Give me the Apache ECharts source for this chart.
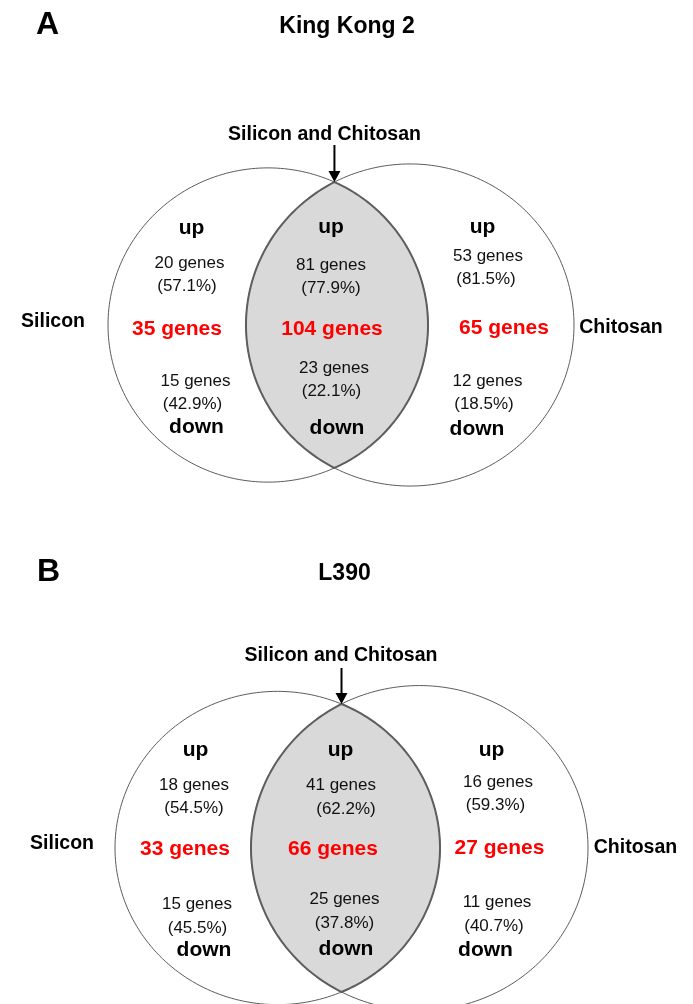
<!DOCTYPE html>
<html>
<head>
<meta charset="utf-8">
<title>Venn diagrams: Silicon and Chitosan responsive genes</title>
<script src="https://cdn.jsdelivr.net/npm/echarts@6/dist/echarts.min.js"></script>
<style>
  html, body { margin: 0; padding: 0; background: #ffffff; }
  #chart { width: 693px; height: 1004px; }
</style>
</head>
<body>
<div id="chart"></div>
<script>
// ---- data -------------------------------------------------------------
const panelLetters = ['A', 'B'];
const cultivars = ['King Kong 2', 'L390'];
const setNames = ['Silicon', 'Chitosan'];
const overlapName = 'Silicon and Chitosan';

// regions in order: Silicon only, Silicon and Chitosan, Chitosan only
const kk2Total = [35, 104, 65];
const kk2Up = [20, 81, 53];
const kk2UpPct = ['57.1', '77.9', '81.5'];
const kk2Down = [15, 23, 12];
const kk2DownPct = ['42.9', '22.1', '18.5'];

const l390Total = [33, 66, 27];
const l390Up = [18, 41, 16];
const l390UpPct = ['54.5', '62.2', '59.3'];
const l390Down = [15, 25, 11];
const l390DownPct = ['45.5', '37.8', '40.7'];

const upWord = 'up';
const downWord = 'down';

// ---- layout (page pixel frame: x 0..693, y 0..1004 downward) ----------
const W = 693, H = 1004;
const FONT = "'Liberation Sans', Arial, Helvetica, sans-serif";

// Text anchor points are [center x, baseline y]
const LAYOUT = [
  {
    letter: [36, 32], title: [347, 32], overlapTitle: [324.5, 139], arrowTop: 145,
    cy: 325, squash: 0.982,
    sets: [{ cx: 268, rx: 160 }, { cx: 410, rx: 164 }],
    setLabels: [[53, 326], [621, 332]],
    slots: [
      [[191.5, 233], [189.5, 267], [187, 290], [177, 334], [195.5, 385], [192.5, 408], [196.5, 432]],
      [[331, 232], [331, 269], [331, 292], [332, 334], [334, 372], [331.5, 395], [337, 433]],
      [[482.5, 232], [488, 260], [486, 283], [504, 333], [487.5, 385], [484, 408], [477, 434]]
    ]
  },
  {
    letter: [37, 579], title: [344.5, 579], overlapTitle: [341, 660], arrowTop: 668,
    cy: 848, squash: 0.964,
    sets: [{ cx: 277.5, rx: 162.5 }, { cx: 419.5, rx: 168.5 }],
    setLabels: [[62, 848], [635.5, 852]],
    slots: [
      [[195.5, 755], [194, 789], [194, 812], [185, 854], [197, 908], [197.5, 932], [204, 955]],
      [[340.5, 755], [341, 789], [346, 813], [333, 854], [344.5, 903], [344.5, 927], [346, 954]],
      [[491.5, 755], [498, 786], [495.5, 809], [499.5, 853], [497, 906], [494, 930], [485.5, 955]]
    ]
  }
];

const TEXT_STYLE = {
  letter:  { size: 32,   weight: 'bold',   color: '#000000', align: 'left' },
  title:   { size: 23,   weight: 'bold',   color: '#000000', align: 'center' },
  setName: { size: 19.5, weight: 'bold',   color: '#000000', align: 'center' },
  word:    { size: 21,   weight: 'bold',   color: '#000000', align: 'center' },
  count:   { size: 17,   weight: 'normal', color: '#111111', align: 'center' },
  total:   { size: 21,   weight: 'bold',   color: '#ff0000', align: 'center' }
};

const panelData = [
  { total: kk2Total, up: kk2Up, upPct: kk2UpPct, down: kk2Down, downPct: kk2DownPct },
  { total: l390Total, up: l390Up, upPct: l390UpPct, down: l390Down, downPct: l390DownPct }
];

// ---- geometry helpers -----------------------------------------------
// The two sets of a panel are ellipses sharing one vertical squash factor,
// so their crossing points follow from the circle case scaled vertically.
function lensGeometry(L) {
  const a = L.sets[0], b = L.sets[1];
  const d = b.cx - a.cx;
  const along = (d * d + a.rx * a.rx - b.rx * b.rx) / (2 * d);
  const half = Math.sqrt(a.rx * a.rx - along * along);
  return { along, half, d };
}

function ellipsePoints(cx, cy, rx, ry, t0, t1, n) {
  const pts = [];
  for (let i = 0; i <= n; i++) {
    const t = t0 + (t1 - t0) * i / n;
    pts.push([cx + rx * Math.cos(t), cy + ry * Math.sin(t)]);
  }
  return pts;
}

// ---- series data ----------------------------------------------------
// shape items: [panel, kind] kind 0/1 = set outline, 2 = overlap region
const shapeItems = [];
LAYOUT.forEach((L, p) => { shapeItems.push([p, 0], [p, 1], [p, 2]); });

const textItems = [];
function pushText(pos, text, role) {
  textItems.push({ value: [pos[0], pos[1]], text, role });
}
LAYOUT.forEach((L, p) => {
  const D = panelData[p];
  pushText(L.letter, panelLetters[p], 'letter');
  pushText(L.title, cultivars[p], 'title');
  pushText(L.overlapTitle, overlapName, 'setName');
  pushText(L.setLabels[0], setNames[0], 'setName');
  pushText(L.setLabels[1], setNames[1], 'setName');
  for (let r = 0; r < 3; r++) {
    const s = L.slots[r];
    pushText(s[0], upWord, 'word');
    pushText(s[1], D.up[r] + ' genes', 'count');
    pushText(s[2], '(' + D.upPct[r] + '%)', 'count');
    pushText(s[3], D.total[r] + ' genes', 'total');
    pushText(s[4], D.down[r] + ' genes', 'count');
    pushText(s[5], '(' + D.downPct[r] + '%)', 'count');
    pushText(s[6], downWord, 'word');
  }
});

// arrow items: one per panel, from the label down to the upper crossing point
const arrowItems = LAYOUT.map((L, p) => {
  const g = lensGeometry(L);
  return [L.sets[0].cx + g.along, L.arrowTop, L.cy - g.half * L.squash];
});

// ---- chart ------------------------------------------------------------
const chart = echarts.init(document.getElementById('chart'), null, { renderer: 'canvas' });

chart.setOption({
  animation: false,
  backgroundColor: '#ffffff',
  grid: { left: 0, right: 0, top: 0, bottom: 0 },
  xAxis: { type: 'value', min: 0, max: W, show: false },
  yAxis: { type: 'value', min: 0, max: H, inverse: true, show: false },
  series: [
    {
      name: 'sets',
      type: 'custom',
      coordinateSystem: 'cartesian2d',
      silent: true,
      data: shapeItems,
      renderItem(params, api) {
        const p = api.value(0), kind = api.value(1);
        const L = LAYOUT[p];
        const k = L.squash;
        let pts;
        if (kind < 2) {
          const s = L.sets[kind];
          pts = ellipsePoints(s.cx, L.cy, s.rx, s.rx * k, 0, Math.PI * 2, 240);
          pts = pts.map(q => api.coord(q));
          return {
            type: 'polyline',
            shape: { points: pts, smooth: 0 },
            style: { stroke: '#4a4a4a', lineWidth: 0.9, fill: null }
          };
        }
        const g = lensGeometry(L);
        const A = L.sets[0], B = L.sets[1];
        // right boundary: arc of the left set through its right side
        const tA = Math.atan2(g.half, g.along);
        const arcA = ellipsePoints(A.cx, L.cy, A.rx, A.rx * k, -tA, tA, 120);
        // left boundary: arc of the right set through its left side
        const tB = Math.atan2(g.half, g.along - g.d);
        const arcB = ellipsePoints(B.cx, L.cy, B.rx, B.rx * k, tB, 2 * Math.PI - tB, 120);
        pts = arcA.concat(arcB).map(q => api.coord(q));
        return {
          type: 'polygon',
          shape: { points: pts },
          style: { fill: '#d9d9d9', stroke: '#5e5e5e', lineWidth: 2 }
        };
      }
    },
    {
      name: 'arrows',
      type: 'custom',
      coordinateSystem: 'cartesian2d',
      silent: true,
      data: arrowItems,
      renderItem(params, api) {
        const top = api.coord([api.value(0), api.value(1)]);
        const tip = api.coord([api.value(0), api.value(2)]);
        const headLen = 11, headHalf = 6;
        return {
          type: 'group',
          children: [
            {
              type: 'line',
              shape: { x1: top[0], y1: top[1], x2: tip[0], y2: tip[1] - headLen + 1 },
              style: { stroke: '#000000', lineWidth: 2 }
            },
            {
              type: 'polygon',
              shape: { points: [[tip[0] - headHalf, tip[1] - headLen], [tip[0] + headHalf, tip[1] - headLen], [tip[0], tip[1]]] },
              style: { fill: '#000000' }
            }
          ]
        };
      }
    },
    {
      name: 'labels',
      type: 'custom',
      coordinateSystem: 'cartesian2d',
      silent: true,
      data: textItems.map(t => t.value),
      renderItem(params, api) {
        const it = textItems[params.dataIndex];
        const st = TEXT_STYLE[it.role];
        const pt = api.coord([api.value(0), api.value(1)]);
        return {
          type: 'text',
          style: {
            x: pt[0],
            y: pt[1] - 0.22 * st.size,
            text: it.text,
            fill: st.color,
            font: st.weight + ' ' + st.size + 'px ' + FONT,
            align: st.align,
            verticalAlign: 'middle'
          }
        };
      }
    }
  ]
});
</script>
</body>
</html>
